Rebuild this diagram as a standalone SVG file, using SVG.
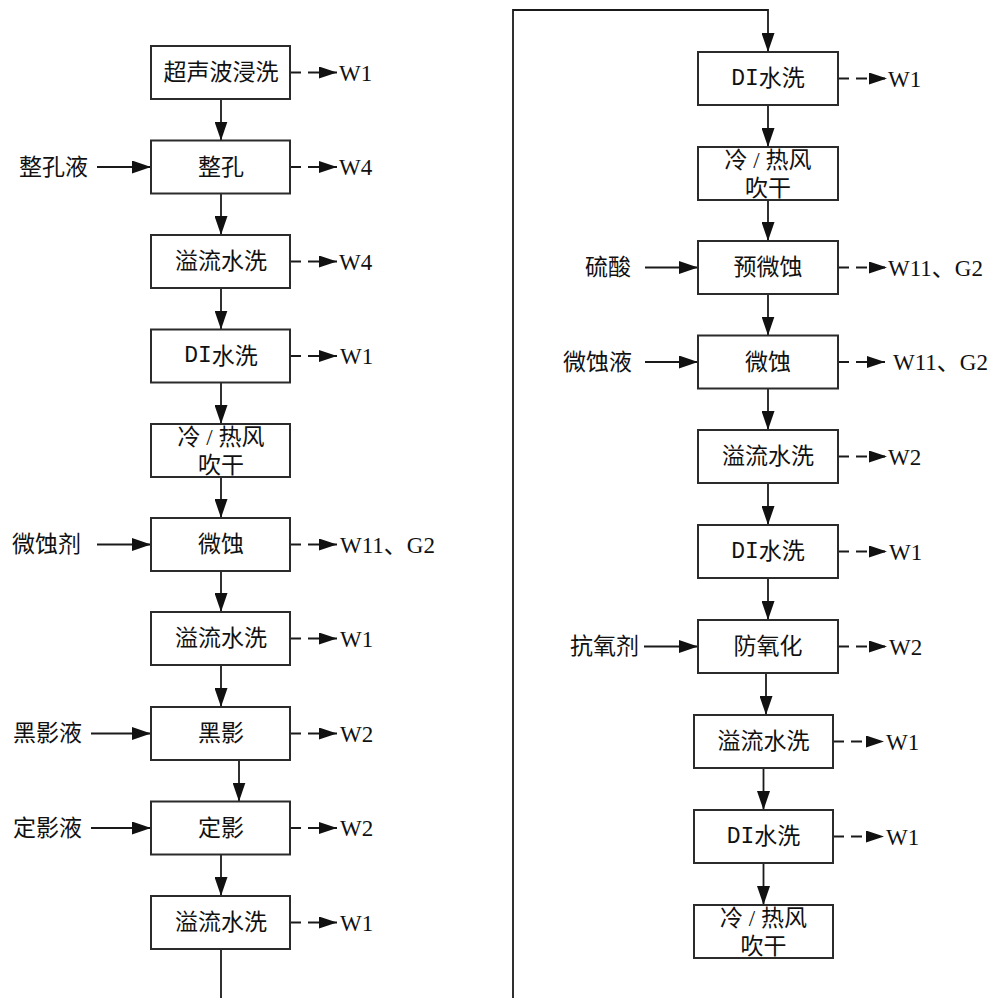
<svg xmlns="http://www.w3.org/2000/svg" width="991" height="998" viewBox="0 0 991 998">
<defs>
<style>
.box{fill:#fff;stroke:#2b2b2b;stroke-width:2}
.ln{fill:none;stroke:#1a1a1a;stroke-width:1.8}
.dash{fill:none;stroke:#1a1a1a;stroke-width:1.8;stroke-dasharray:11 7}
.t{font-family:"Liberation Serif","Noto Sans CJK SC","Noto Sans CJK JP",serif;font-size:23px;fill:#111;text-anchor:middle;dominant-baseline:central}
.lab{font-family:"Liberation Serif","Noto Sans CJK SC","Noto Sans CJK JP",serif;font-size:23px;fill:#111;dominant-baseline:central}
.out{font-family:"Liberation Serif","Noto Sans CJK SC",serif;font-size:23px;fill:#111;dominant-baseline:central}
.m{font-family:"Liberation Mono",monospace}
</style>
<marker id="ah" markerUnits="userSpaceOnUse" markerWidth="19" markerHeight="13" refX="19" refY="6.5" orient="auto">
<path d="M0,0 L19,6.5 L0,13 Z" fill="#111"/>
</marker>
<marker id="ao" markerUnits="userSpaceOnUse" markerWidth="18" markerHeight="12" refX="18" refY="6" orient="auto">
<path d="M0,0 L18,6 L0,12 Z" fill="#111"/>
</marker>
</defs>

<g id="connectors">
<line class="ln" x1="221" y1="99" x2="221" y2="140.5" marker-end="url(#ah)"/>
<line class="ln" x1="221" y1="193.5" x2="221" y2="235" marker-end="url(#ah)"/>
<line class="ln" x1="221" y1="288" x2="221" y2="329.5" marker-end="url(#ah)"/>
<line class="ln" x1="221" y1="382.5" x2="221" y2="424" marker-end="url(#ah)"/>
<line class="ln" x1="221" y1="477" x2="221" y2="518" marker-end="url(#ah)"/>
<line class="ln" x1="221" y1="571" x2="221" y2="612" marker-end="url(#ah)"/>
<line class="ln" x1="221" y1="665" x2="221" y2="707" marker-end="url(#ah)"/>
<line class="ln" x1="239" y1="760" x2="239" y2="801.5" marker-end="url(#ah)"/>
<line class="ln" x1="221" y1="854.5" x2="221" y2="896" marker-end="url(#ah)"/>
<line class="ln" x1="221" y1="949" x2="221" y2="1000"/>
<path class="ln" d="M513,1000 V10 H768 V52" marker-end="url(#ah)"/>
<line class="ln" x1="768" y1="105" x2="768" y2="147" marker-end="url(#ah)"/>
<line class="ln" x1="768" y1="200" x2="768" y2="241" marker-end="url(#ah)"/>
<line class="ln" x1="768" y1="294" x2="768" y2="335.5" marker-end="url(#ah)"/>
<line class="ln" x1="768" y1="388.5" x2="768" y2="430" marker-end="url(#ah)"/>
<line class="ln" x1="768" y1="483" x2="768" y2="525" marker-end="url(#ah)"/>
<line class="ln" x1="768" y1="578" x2="768" y2="620" marker-end="url(#ah)"/>
<line class="ln" x1="766" y1="673" x2="766" y2="715" marker-end="url(#ah)"/>
<line class="ln" x1="763.5" y1="768" x2="763.5" y2="810" marker-end="url(#ah)"/>
<line class="ln" x1="763.5" y1="863" x2="763.5" y2="905" marker-end="url(#ah)"/>
<line class="ln" x1="97" y1="167" x2="151" y2="167" marker-end="url(#ah)"/>
<line class="ln" x1="97" y1="544.5" x2="151" y2="544.5" marker-end="url(#ah)"/>
<line class="ln" x1="91" y1="733.5" x2="151" y2="733.5" marker-end="url(#ah)"/>
<line class="ln" x1="91" y1="828" x2="151" y2="828" marker-end="url(#ah)"/>
<line class="ln" x1="645" y1="267.5" x2="698" y2="267.5" marker-end="url(#ah)"/>
<line class="ln" x1="645" y1="362" x2="698" y2="362" marker-end="url(#ah)"/>
<line class="ln" x1="644" y1="646.5" x2="698" y2="646.5" marker-end="url(#ah)"/>
<line class="dash" x1="290" y1="72.5" x2="337" y2="72.5" marker-end="url(#ao)"/>
<line class="dash" x1="290" y1="167" x2="337" y2="167" marker-end="url(#ao)"/>
<line class="dash" x1="290" y1="261.5" x2="337" y2="261.5" marker-end="url(#ao)"/>
<line class="dash" x1="290" y1="356" x2="337" y2="356" marker-end="url(#ao)"/>
<line class="dash" x1="290" y1="544.5" x2="337" y2="544.5" marker-end="url(#ao)"/>
<line class="dash" x1="290" y1="638.5" x2="337" y2="638.5" marker-end="url(#ao)"/>
<line class="dash" x1="290" y1="733.5" x2="337" y2="733.5" marker-end="url(#ao)"/>
<line class="dash" x1="290" y1="828" x2="337" y2="828" marker-end="url(#ao)"/>
<line class="dash" x1="290" y1="922.5" x2="337" y2="922.5" marker-end="url(#ao)"/>
<line class="dash" x1="838" y1="78.5" x2="887" y2="78.5" marker-end="url(#ao)"/>
<line class="dash" x1="838" y1="267.5" x2="887" y2="267.5" marker-end="url(#ao)"/>
<line class="dash" x1="838" y1="362" x2="885" y2="362" marker-end="url(#ao)"/>
<line class="dash" x1="838" y1="456.5" x2="887" y2="456.5" marker-end="url(#ao)"/>
<line class="dash" x1="838" y1="551.5" x2="887" y2="551.5" marker-end="url(#ao)"/>
<line class="dash" x1="838" y1="646.5" x2="887" y2="646.5" marker-end="url(#ao)"/>
<line class="dash" x1="833" y1="741.5" x2="884" y2="741.5" marker-end="url(#ao)"/>
<line class="dash" x1="833" y1="836.5" x2="884" y2="836.5" marker-end="url(#ao)"/>
</g>

<g id="L1"><rect class="box" x="151" y="46" width="139" height="53"/><text class="t" x="221" y="72.5">超声波浸洗</text></g>
<g id="L2"><rect class="box" x="151" y="140.5" width="139" height="53"/><text class="t" x="221" y="167">整孔</text></g>
<g id="L3"><rect class="box" x="151" y="235" width="139" height="53"/><text class="t" x="221" y="261.5">溢流水洗</text></g>
<g id="L4"><rect class="box" x="151" y="329.5" width="139" height="53"/><text class="t" x="221" y="356"><tspan class="m">DI</tspan>水洗</text></g>
<g id="L5"><rect class="box" x="151" y="424" width="139" height="53"/><text class="t" x="221" y="437.5">冷 / 热风</text><text class="t" x="221" y="465">吹干</text></g>
<g id="L6"><rect class="box" x="151" y="518" width="139" height="53"/><text class="t" x="221" y="544.5">微蚀</text></g>
<g id="L7"><rect class="box" x="151" y="612" width="139" height="53"/><text class="t" x="221" y="638.5">溢流水洗</text></g>
<g id="L8"><rect class="box" x="151" y="707" width="139" height="53"/><text class="t" x="221" y="733.5">黑影</text></g>
<g id="L9"><rect class="box" x="151" y="801.5" width="139" height="53"/><text class="t" x="221" y="828">定影</text></g>
<g id="L10"><rect class="box" x="151" y="896" width="139" height="53"/><text class="t" x="221" y="922.5">溢流水洗</text></g>

<g id="R1"><rect class="box" x="698" y="52" width="140" height="53"/><text class="t" x="768" y="78.5"><tspan class="m">DI</tspan>水洗</text></g>
<g id="R2"><rect class="box" x="698" y="147" width="140" height="53"/><text class="t" x="768" y="160.5">冷 / 热风</text><text class="t" x="768" y="188">吹干</text></g>
<g id="R3"><rect class="box" x="698" y="241" width="140" height="53"/><text class="t" x="768" y="267.5">预微蚀</text></g>
<g id="R4"><rect class="box" x="698" y="335.5" width="140" height="53"/><text class="t" x="768" y="362">微蚀</text></g>
<g id="R5"><rect class="box" x="698" y="430" width="140" height="53"/><text class="t" x="768" y="456.5">溢流水洗</text></g>
<g id="R6"><rect class="box" x="698" y="525" width="140" height="53"/><text class="t" x="768" y="551.5"><tspan class="m">DI</tspan>水洗</text></g>
<g id="R7"><rect class="box" x="698" y="620" width="140" height="53"/><text class="t" x="768" y="646.5">防氧化</text></g>
<g id="R8"><rect class="box" x="694" y="715" width="139" height="53"/><text class="t" x="763.5" y="741.5">溢流水洗</text></g>
<g id="R9"><rect class="box" x="694" y="810" width="139" height="53"/><text class="t" x="763.5" y="836.5"><tspan class="m">DI</tspan>水洗</text></g>
<g id="R10"><rect class="box" x="694" y="905" width="139" height="53"/><text class="t" x="763.5" y="918">冷 / 热风</text><text class="t" x="763.5" y="946">吹干</text></g>

<g id="in-labels">
<text class="lab" x="19" y="167">整孔液</text>
<text class="lab" x="12" y="544.5">微蚀剂</text>
<text class="lab" x="13" y="733.5">黑影液</text>
<text class="lab" x="13" y="828">定影液</text>
<text class="lab" x="585" y="267.5">硫酸</text>
<text class="lab" x="563" y="362">微蚀液</text>
<text class="lab" x="570" y="646.5">抗氧剂</text>
</g>

<g id="out-labels">
<text class="out" x="339" y="73">W1</text>
<text class="out" x="339" y="167.5">W4</text>
<text class="out" x="339" y="262">W4</text>
<text class="out" x="340" y="356.5">W1</text>
<text class="out" x="340" y="545">W11、G2</text>
<text class="out" x="340" y="639">W1</text>
<text class="out" x="340" y="734">W2</text>
<text class="out" x="340" y="828.5">W2</text>
<text class="out" x="340" y="923">W1</text>
<text class="out" x="888" y="79">W1</text>
<text class="out" x="888" y="268">W11、G2</text>
<text class="out" x="893" y="362.5">W11、G2</text>
<text class="out" x="888" y="457">W2</text>
<text class="out" x="889" y="552">W1</text>
<text class="out" x="889" y="647">W2</text>
<text class="out" x="886" y="742">W1</text>
<text class="out" x="886" y="837">W1</text>
</g>
</svg>
